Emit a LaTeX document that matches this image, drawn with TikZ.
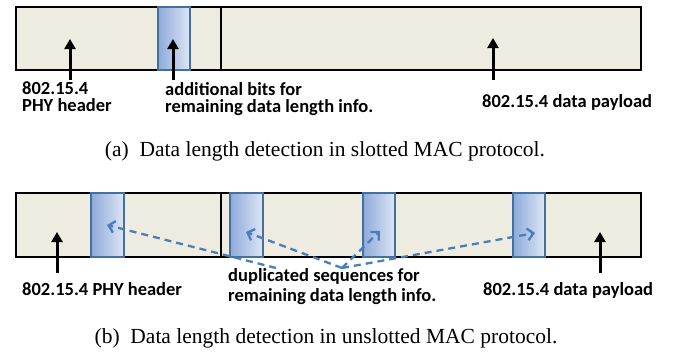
\documentclass[tikz,border=0pt]{standalone}
\usepackage{fontspec}
\setmainfont{Liberation Serif}
\newfontfamily\labfont{Carlito}
\usetikzlibrary{arrows.meta}
\definecolor{barfill}{HTML}{EEEBE0}
\definecolor{seqedge}{HTML}{41719C}
\definecolor{seqdark}{HTML}{8EAADB}
\definecolor{seqlight}{HTML}{DDE6F4}
\definecolor{dashblue}{HTML}{4A7EBB}
\tikzset{
  barbox/.style={draw=black, fill=barfill, line width=1.3pt, inner sep=0pt, outer sep=0pt, anchor=north west},
  seqbox/.style={draw=seqedge, line width=1.3pt, left color=seqdark, right color=seqlight, inner sep=0pt, outer sep=0pt, anchor=north west},
  divider/.style={draw=black, line width=1.3pt},
  blackarrow/.style={draw=black, line width=3pt, -{Triangle[length=10pt,width=11pt]}},
  dasharrow/.style={draw=dashblue, line width=2.3pt, dash pattern=on 7pt off 5pt, -{Straight Barb[length=6pt,width=12pt]}},
  lab/.style={font=\labfont\bfseries\fontsize{18.5}{17}\selectfont, align=left, inner sep=0pt, anchor=base west},
  labwide/.style={lab, font=\labfont\bfseries\fontsize{18.5}{20}\selectfont},
  captext/.style={font=\fontsize{21.5}{24}\selectfont, inner sep=0pt, anchor=base}
}
\begin{document}
\begin{tikzpicture}[x=1pt,y=-1pt]
\useasboundingbox (0,0) rectangle (677,351);
% (a)
\node[barbox, minimum width=625pt, minimum height=63pt] (barA) at (16,7) {};
\node[seqbox, minimum width=32pt, minimum height=63pt] (bitsA) at (158,7) {};
\coordinate (divAt) at (221,7);
\coordinate (divAb) at (221,70);
\draw[divider] (divAt) -- (divAb);
\coordinate (hA0) at (70,80); \coordinate (hA1) at (70,39);
\coordinate (bA0) at (173,80); \coordinate (bA1) at (173,39);
\coordinate (pA0) at (493,80); \coordinate (pA1) at (493,38);
\draw[blackarrow] (hA0) -- (hA1);
\draw[blackarrow] (bA0) -- (bA1);
\draw[blackarrow] (pA0) -- (pA1);
\node[lab] (labA1) at (22,111) {802.15.4\\PHY header};
\node[lab] (labA2) at (165,112) {additional bits for\\remaining data length info.};
\node[lab] (labA3) at (482,107) {802.15.4 data payload};
\node[captext] (capA) at (325,156) {(a)~ Data length detection in slotted MAC protocol.};
% (b)
\node[barbox, minimum width=625pt, minimum height=64pt] (barB) at (16,193) {};
\node[seqbox, minimum width=33pt, minimum height=64pt] (s1) at (91,193) {};
\node[seqbox, minimum width=33pt, minimum height=64pt] (s2) at (230,193) {};
\node[seqbox, minimum width=32pt, minimum height=64pt] (s3) at (363,193) {};
\node[seqbox, minimum width=32pt, minimum height=64pt] (s4) at (513,193) {};
\coordinate (divBt) at (221,193);
\coordinate (divBb) at (221,257);
\draw[divider] (divBt) -- (divBb);
\coordinate (hB0) at (57,273); \coordinate (hB1) at (57,232);
\coordinate (pB0) at (600,273); \coordinate (pB1) at (600,232);
\draw[blackarrow] (hB0) -- (hB1);
\draw[blackarrow] (pB0) -- (pB1);
\coordinate (d1) at (276,268);
\coordinate (d0) at (342,268);
\coordinate (t1) at (107,225);
\coordinate (t2) at (246,232);
\coordinate (t3) at (380,231);
\coordinate (t4) at (535,233);
\draw[dasharrow] (d1) -- (t1);
\draw[dasharrow] (d0) -- (t2);
\draw[dasharrow] (d0) -- (t3);
\draw[dasharrow] (d0) -- (t4);
\node[lab] (labB1) at (22,295) {802.15.4 PHY header};
\node[labwide] (labB2) at (228,301) {duplicated sequences for\\remaining data length info.};
\node[lab] (labB3) at (483,295) {802.15.4 data payload};
\node[captext] (capB) at (326,343) {(b)~ Data length detection in unslotted MAC protocol.};
\end{tikzpicture}
\end{document}
